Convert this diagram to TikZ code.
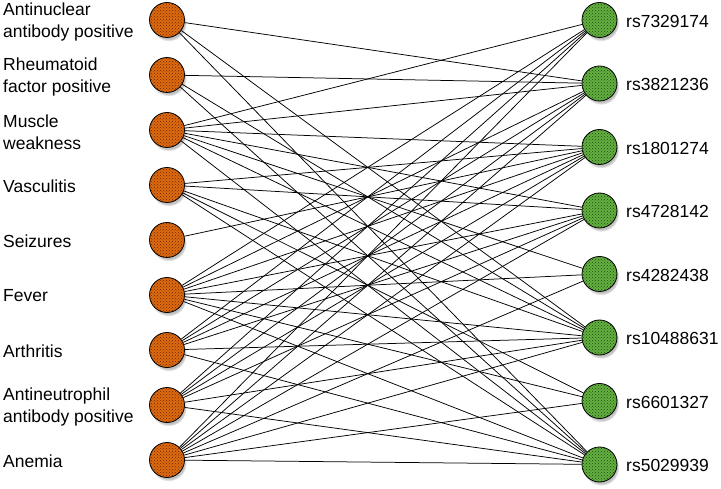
\documentclass[tikz,border=0pt]{standalone}
\usepackage{fontspec}
\setmainfont{Liberation Sans}
\usetikzlibrary{patterns,shadows}
\definecolor{orfill}{RGB}{222,106,16}
\definecolor{ordot}{RGB}{105,40,0}
\definecolor{grfill}{RGB}{100,176,64}
\definecolor{grdot}{RGB}{28,72,18}
\tikzset{
  vtx/.style={circle, minimum size=35pt, inner sep=0pt, draw=black, line width=0.8pt,
    circular drop shadow={shadow xshift=1.5pt, shadow yshift=-3pt, opacity=.5, shadow scale=1.04}},
  lnode/.style={vtx, preaction={fill=orfill}, pattern=crosshatch dots, pattern color=ordot},
  rnode/.style={vtx, preaction={fill=grfill}, pattern=crosshatch dots, pattern color=grdot},
  lbl/.style={inner sep=0pt, align=left, font=\fontsize{17.5}{22}\selectfont},
  edge/.style={draw=black, line width=0.75pt}
}
\begin{document}
\begin{tikzpicture}[x=1pt, y=-1pt]
\useasboundingbox (0,0) rectangle (721,489);
% left nodes
\foreach \i/\y in {1/20,2/75,3/130,4/185,5/240,6/295,7/350,8/405,9/460}
  \node[lnode] (L\i) at (167,\y) {};
% right nodes
\foreach \j/\y in {1/20,2/83.5,3/147,4/210.5,5/274,6/337.5,7/401,8/464.5}
  \node[rnode] (R\j) at (599.5,\y) {};
% left labels
\node[lbl, anchor=west] (t1) at (3,22) {Antinuclear\\antibody positive};
\node[lbl, anchor=west] (t2) at (3,77) {Rheumatoid\\factor positive};
\node[lbl, anchor=west] (t3) at (3,132) {Muscle\\weakness};
\node[lbl, anchor=west] (t4) at (3,186) {Vasculitis};
\node[lbl, anchor=west] (t5) at (3,241) {Seizures};
\node[lbl, anchor=west] (t6) at (3,296) {Fever};
\node[lbl, anchor=west] (t7) at (3,351) {Arthritis};
\node[lbl, anchor=west] (t8) at (3,407) {Antineutrophil\\antibody positive};
\node[lbl, anchor=west] (t9) at (3,461) {Anemia};
% right labels
\node[lbl, anchor=west] (s1) at (626,21) {rs7329174};
\node[lbl, anchor=west] (s2) at (626,84.5) {rs3821236};
\node[lbl, anchor=west] (s3) at (626,148) {rs1801274};
\node[lbl, anchor=west] (s4) at (626,211.5) {rs4728142};
\node[lbl, anchor=west] (s5) at (626,275) {rs4282438};
\node[lbl, anchor=west] (s6) at (626,338.5) {rs10488631};
\node[lbl, anchor=west] (s7) at (626,402) {rs6601327};
\node[lbl, anchor=west] (s8) at (626,465.5) {rs5029939};
% edges
\foreach \a/\b in {1/2,1/6,1/8,
                   2/2,2/6,2/8,
                   3/1,3/2,3/3,3/4,3/5,3/6,3/8,
                   4/3,4/4,4/6,4/7,4/8,
                   5/3,
                   6/1,6/2,6/3,6/4,6/5,6/6,6/7,6/8,
                   7/1,7/2,7/3,7/4,7/6,7/8,
                   8/1,8/2,8/3,8/4,8/6,8/8,
                   9/1,9/2,9/3,9/4,9/5,9/6,9/7,9/8}
  \draw[edge] (L\a) -- (R\b);
\end{tikzpicture}
\end{document}
